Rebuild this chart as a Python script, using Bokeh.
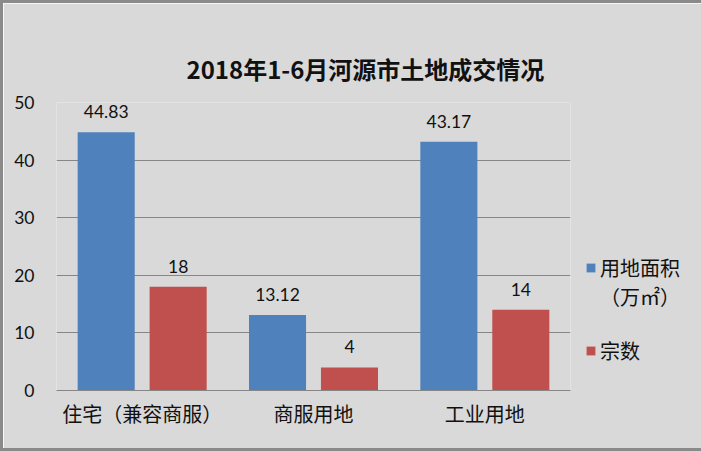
from bokeh.plotting import figure
from bokeh.models import (FactorRange, ColumnDataSource, LabelSet, Legend, LegendItem,
                          Range1d, SingleIntervalTicker)
from bokeh.transform import dodge
from bokeh.core.properties import value
from bokeh.embed import file_html
from bokeh.resources import INLINE

categories = ["住宅（兼容商服）", "商服用地", "工业用地"]
area = [44.83, 13.12, 43.17]
count = [18, 4, 14]
area_labels = ["44.83", "13.12", "43.17"]
count_labels = ["18", "4", "14"]
series_line1 = "用地面积"
series_line2 = "（万㎡）"
series2_name = "宗数"
title_text = "2018年1-6月河源市土地成交情况"

BG = "#D9D9D9"
CJK = "Noto Sans CJK SC"
NUM = "Lato"

src = ColumnDataSource(dict(cat=categories, area=area, count=count,
                            al=area_labels, cl=count_labels))

W, H = 695, 445
p = figure(x_range=FactorRange(factors=categories, range_padding=0),
           y_range=Range1d(0, 50),
           width=W, height=H, output_backend="svg", toolbar_location=None,
           min_border_left=53, min_border_right=128, min_border_top=99, min_border_bottom=58)
p.frame_width = 514
p.frame_height = 288
p.background_fill_color = BG
p.border_fill_color = BG
p.outline_line_color = None
p.styles = {"border": "3px solid #8A8A8A"}

p.title.text = title_text
p.title.align = "left"
p.title.offset = 130
p.title.standoff = 34
p.title.text_font = CJK
p.title.text_font_style = "bold"
p.title.text_font_size = "24px"
p.title.text_color = "#111111"

r1 = p.vbar(x=dodge("cat", -0.21, range=p.x_range), top="area", width=0.333,
            source=src, color="#4F81BD", line_color=None)
r2 = p.vbar(x=dodge("cat", 0.21, range=p.x_range), top="count", width=0.333,
            source=src, color="#C0504D", line_color=None)
blank = p.vbar(x=[], top=[], width=0.3, fill_alpha=0, line_alpha=0)

p.add_layout(LabelSet(x=dodge("cat", -0.21, range=p.x_range), y="area", text="al", source=src,
                      text_align="center", text_baseline="bottom", y_offset=14,
                      text_font=value(NUM), text_font_size="17.5px", text_color="#111111"))
p.add_layout(LabelSet(x=dodge("cat", 0.21, range=p.x_range), y="count", text="cl", source=src,
                      text_align="center", text_baseline="bottom", y_offset=14,
                      text_font=value(NUM), text_font_size="17.5px", text_color="#111111"))

p.yaxis.ticker = SingleIntervalTicker(interval=10)
p.yaxis.axis_line_color = None
p.yaxis.major_tick_line_color = None
p.yaxis.minor_tick_line_color = None
p.yaxis.major_label_standoff = 16
p.yaxis.major_label_text_font = NUM
p.yaxis.major_label_text_font_size = "17.5px"
p.yaxis.major_label_text_color = "#111111"

p.xaxis.axis_line_color = "#868686"
p.xaxis.major_tick_line_color = None
p.xaxis.minor_tick_line_color = None
p.xaxis.major_label_standoff = 2
p.xaxis.major_label_text_font = CJK
p.xaxis.major_label_text_font_size = "20px"
p.xaxis.major_label_text_color = "#111111"

p.xgrid.grid_line_color = None
p.ygrid.grid_line_color = "#868686"

legend = Legend(items=[LegendItem(label=series_line1, renderers=[r1]),
                       LegendItem(label=series_line2, renderers=[blank]),
                       LegendItem(label=" ", renderers=[blank]),
                       LegendItem(label=series2_name, renderers=[r2])],
                location=(15, 25), margin=0, padding=0,
                background_fill_alpha=0, border_line_color=None,
                label_text_font=CJK, label_text_font_size="20px", label_text_color="#111111",
                label_height=25, glyph_width=11, glyph_height=11, spacing=0, label_standoff=4)
p.add_layout(legend, "right")

open("out.html", "w").write(file_html(p, INLINE))
